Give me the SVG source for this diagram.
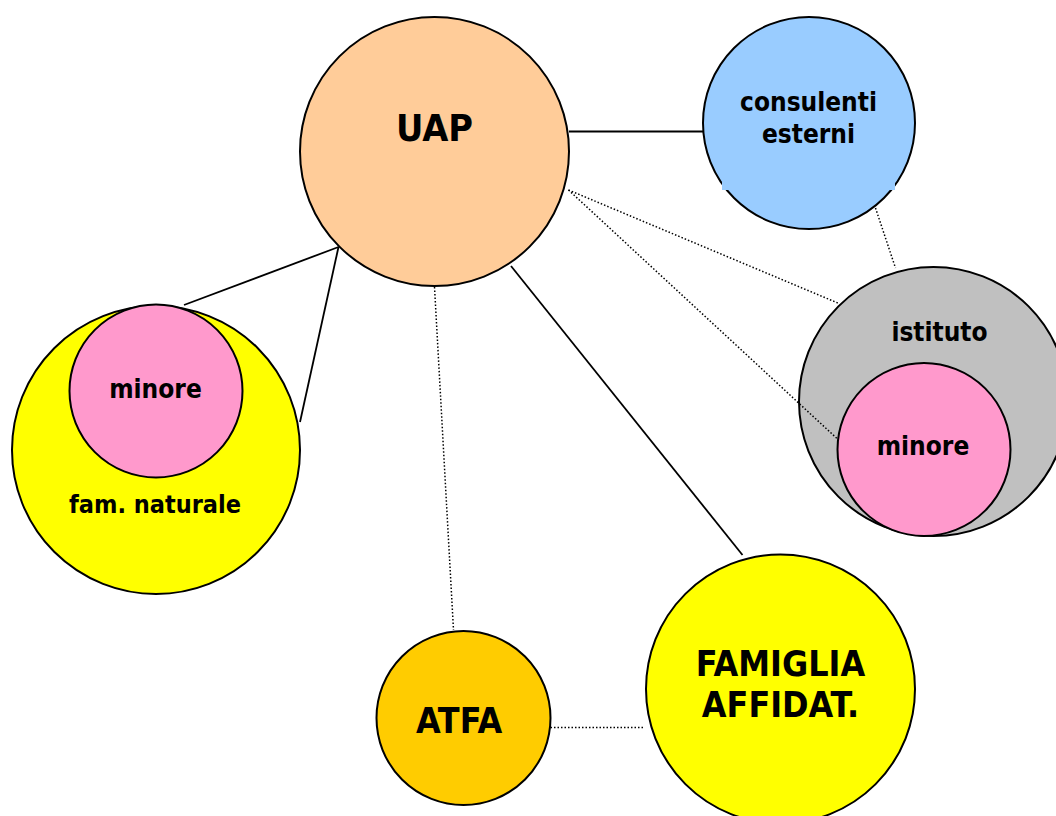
<svg xmlns="http://www.w3.org/2000/svg" width="1056" height="816" viewBox="0 0 1056 816">
<style>
.n{stroke:#000;stroke-width:2}
.t{font-family:"DejaVu Sans Condensed","DejaVu Sans",sans-serif;font-stretch:condensed;font-weight:bold;fill:#000;text-anchor:middle}
.s{font-size:26px}
.l{font-size:35.5px}
.solid{stroke:#000;stroke-width:1.8;fill:none}
.dot{stroke:#000;stroke-width:1.5;stroke-dasharray:1.5 2;fill:none}
</style>
<rect width="1056" height="816" fill="#fff"/>
<g id="uap">
<circle class="n" cx="434.5" cy="151.5" r="134.5" fill="#FFCC99"/>
<text class="t" x="434.5" y="141" font-size="37.5">UAP</text>
</g>
<g id="consulenti">
<circle class="n" cx="809" cy="123" r="106" fill="#99CCFF"/>
<rect x="722" y="90" width="173" height="100" fill="#99CCFF"/>
<text class="t s" x="808.5" y="111">consulenti</text>
<text class="t s" x="808.5" y="143">esterni</text>
</g>
<g id="istituto">
<circle class="n" cx="933.5" cy="401.5" r="134.5" fill="#C0C0C0"/>
<text class="t s" x="939.5" y="341">istituto</text>
</g>
<g id="minore-istituto">
<circle class="n" cx="924" cy="449.5" r="86.5" fill="#FF99CC"/>
<text class="t s" x="923" y="455">minore</text>
</g>
<g id="fam-naturale">
<circle class="n" cx="156" cy="450" r="144" fill="#FFFF00"/>
<text class="t" x="155" y="513" font-size="25">fam. naturale</text>
</g>
<g id="minore-fam">
<circle class="n" cx="156" cy="391" r="86.5" fill="#FF99CC"/>
<text class="t s" x="155.5" y="398">minore</text>
</g>
<g id="atfa">
<circle class="n" cx="463.5" cy="718" r="87" fill="#FFCC00"/>
<text class="t l" x="459" y="733">ATFA</text>
</g>
<g id="famiglia">
<circle class="n" cx="780.5" cy="689" r="134.5" fill="#FFFF00"/>
<text class="t l" x="780.5" y="676">FAMIGLIA</text>
<text class="t l" x="780.5" y="717">AFFIDAT.</text>
</g>
<g id="connectors">
<line class="solid" x1="569" y1="131.5" x2="703" y2="131.5"/>
<line class="solid" x1="184" y1="305" x2="338.5" y2="247"/>
<line class="solid" x1="338.5" y1="247" x2="300" y2="422"/>
<line class="solid" x1="511" y1="266" x2="742.5" y2="555"/>
<line class="dot" x1="568.5" y1="190" x2="839" y2="303.5"/>
<line class="dot" x1="568.5" y1="190" x2="837" y2="438.5"/>
<line class="dot" x1="875.5" y1="208" x2="895.5" y2="268"/>
<line class="dot" x1="434.5" y1="287" x2="453.5" y2="630"/>
<line class="dot" x1="550.5" y1="727.5" x2="643" y2="727.5"/>
</g>
</svg>
